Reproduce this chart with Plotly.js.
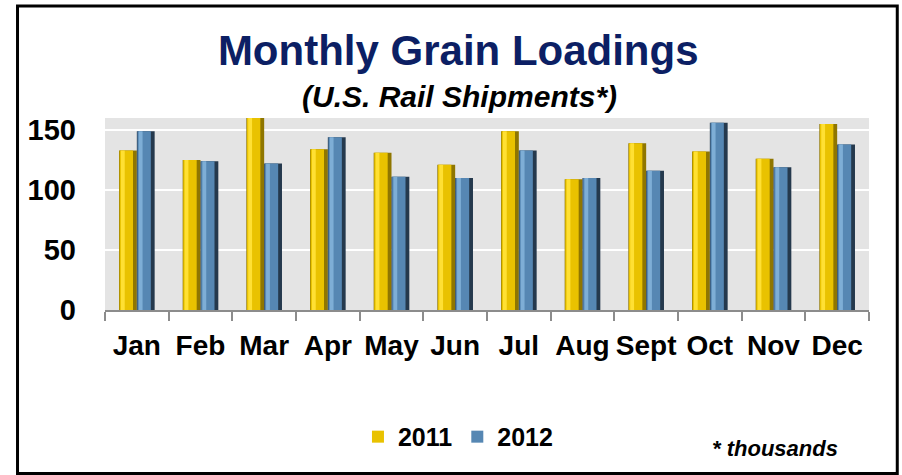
<!DOCTYPE html>
<html>
<head>
<meta charset="utf-8">
<script src="https://cdn.plot.ly/plotly-3.0.1.min.js"></script>
<style>
  body { margin: 0; background: #fff; }
  #chart { width: 902px; height: 475px; }
</style>
</head>
<body>
<div id="chart"></div>
<script>
// monthly grain carloads, thousands
const months = ['Jan', 'Feb', 'Mar', 'Apr', 'May', 'Jun', 'Jul', 'Aug', 'Sept', 'Oct', 'Nov', 'Dec'];
const loads2011 = [133, 125, 160, 134, 131, 121, 149, 109, 139, 132, 126, 155];
const loads2012 = [149, 124, 122, 144, 111, 110, 133, 110, 116, 156, 119, 138];
const yTicks = [0, 50, 100, 150];

const FONT = 'Liberation Sans, Arial, sans-serif';

// one bar series built from three layers on top of each other to fake the bevel
function bevelBars(name, values, offset, colors) {
    const base = {
        x: months,
        y: values,
        type: 'bar',
        width: 0.28,
        offset: offset,
        marker: {color: colors.dark, line: {width: 0}},
        name: name,
        showlegend: false,
        hoverinfo: 'skip'
    };
    const face = {
        x: months,
        y: values,
        type: 'bar',
        width: 0.21,
        offset: offset + 0.01,
        marker: {color: colors.main, line: {width: 0}},
        name: name,
        legendgroup: name,
        showlegend: true,
        hovertemplate: '%{x}: %{y}<extra>' + name + '</extra>'
    };
    const shine = {
        x: months,
        y: values,
        type: 'bar',
        width: 0.06,
        offset: offset + 0.03,
        marker: {color: colors.light, line: {width: 0}},
        name: name,
        showlegend: false,
        hoverinfo: 'skip'
    };
    return [base, face, shine];
}

const traces = [].concat(
    bevelBars('2011', loads2011, -0.28, {dark: '#8f7600', main: '#e9c200', light: '#ffe033'}),
    bevelBars('2012', loads2012, 0, {dark: '#25394d', main: '#5687b3', light: '#7eaed6'})
);

const layout = {
    width: 902,
    height: 475,
    barmode: 'overlay',
    paper_bgcolor: '#ffffff',
    plot_bgcolor: '#e4e4e4',
    margin: {l: 105, r: 33, t: 118, b: 165},
    font: {family: FONT, color: '#000'},
    title: {
        text: '<b>Monthly Grain Loadings</b>',
        font: {family: FONT, size: 42, color: '#0c1f64'},
        x: 0.508,
        xanchor: 'center',
        y: 0.895,
        yanchor: 'middle'
    },
    xaxis: {
        type: 'category',
        tickson: 'boundaries',
        ticks: 'outside',
        ticklen: 9,
        tickwidth: 2,
        tickcolor: '#8c8c8c',
        showline: true,
        linecolor: '#8c8c8c',
        linewidth: 2,
        showgrid: false,
        tickangle: 0,
        tickfont: {family: FONT, size: 28, color: '#000', weight: 'bold'},
        ticklabelstandoff: 9
    },
    yaxis: {
        range: [0, 160],
        tickvals: yTicks,
        ticktext: yTicks.map(String),
        ticks: '',
        showline: false,
        zeroline: false,
        showgrid: true,
        gridcolor: '#ffffff',
        gridwidth: 2,
        tickfont: {family: FONT, size: 29, color: '#000', weight: 'bold'},
        ticklabelstandoff: 28
    },
    legend: {
        orientation: 'h',
        x: 0.462,
        xanchor: 'center',
        y: -0.661,
        yanchor: 'middle',
        font: {family: FONT, size: 25, color: '#000', weight: 'bold'},
        bgcolor: 'rgba(0,0,0,0)',
        itemwidth: 30
    },
    annotations: [
        {
            text: '<b><i>(U.S. Rail Shipments*)</i></b>',
            xref: 'paper', yref: 'paper',
            x: 0.464, y: 1.11,
            xanchor: 'center', yanchor: 'middle',
            showarrow: false,
            font: {family: FONT, size: 30, color: '#000'}
        },
        {
            text: '<b><i>* thousands</i></b>',
            xref: 'paper', yref: 'paper',
            x: 0.877, y: -0.72,
            xanchor: 'center', yanchor: 'middle',
            showarrow: false,
            font: {family: FONT, size: 22, color: '#000'}
        }
    ],
    shapes: [
        {
            type: 'rect',
            xref: 'paper', yref: 'paper',
            x0: -0.1145, x1: 1.037,
            y0: -0.852, y1: 1.583,
            line: {color: '#000', width: 3},
            fillcolor: 'rgba(0,0,0,0)',
            layer: 'above'
        }
    ]
};

Plotly.newPlot('chart', traces, layout, {displayModeBar: false, staticPlot: true});
</script>
</body>
</html>
